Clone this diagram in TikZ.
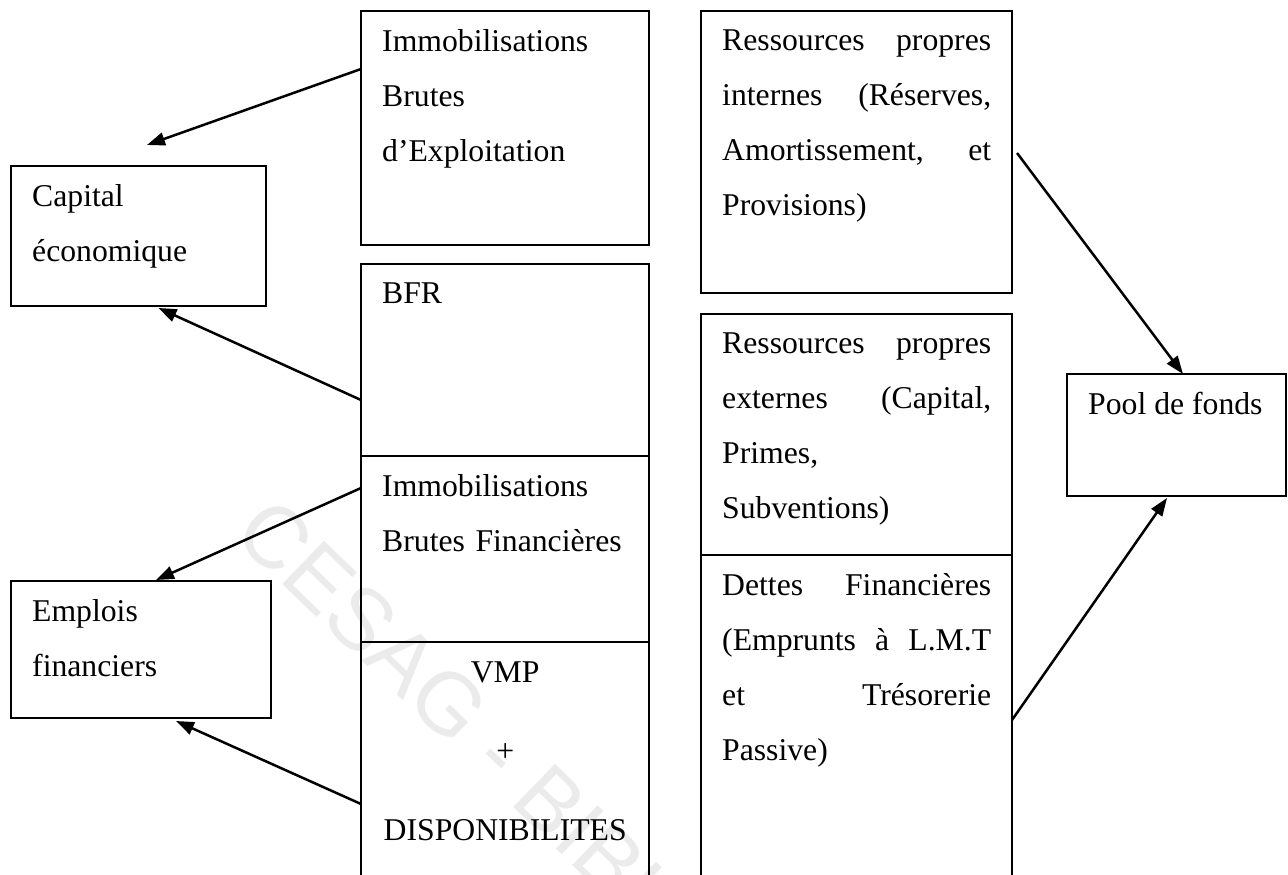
\documentclass[tikz,border=0pt]{standalone}
\usepackage{fontspec}
\setmainfont{Liberation Serif}
\newfontfamily\wmfont{Liberation Sans}
\usepackage{tikz}
\usetikzlibrary{arrows.meta}

\newcommand{\jgap}{\nobreak\hfill}

\begin{document}
\begin{tikzpicture}[x=1pt, y=-1pt,
		cell/.style={draw, line width=1.8pt, inner sep=0pt, outer sep=0pt, anchor=north west},
		celltext/.style={anchor=north west, inner sep=0pt, align=left,
			font=\fontsize{31.7}{55}\selectfont},
		link/.style={-{Triangle[length=18pt, width=13pt]}, line width=2.5pt}]
		\useasboundingbox (0,0) rectangle (1288,875);
		\clip (0,0) rectangle (1288,875);

		% Watermark
		\node[rotate=-44, text=gray!16, font=\wmfont\fontsize{87.5}{90}\selectfont]
			(mark) at (618,878) {CESAG - BIBLIOTHEQUE};

		% Emplois
		\node[cell, minimum width=288pt, minimum height=234pt] (ibe) at (361,11) {};
		\node[cell, minimum width=288pt, minimum height=192pt] (bfr) at (361,264) {};
		\node[cell, minimum width=288pt, minimum height=186pt] (immoFin) at (361,456) {};
		\node[cell, minimum width=288pt, minimum height=300pt] (vmp) at (361,642) {};
		\node[celltext, text width=246pt] (ibeText) at ([xshift=21pt, yshift=-18pt]ibe.north west)
			{Immobilisations\\Brutes\\d’Exploitation};
		\node[celltext, text width=246pt] (bfrText) at ([xshift=21pt, yshift=-19pt]bfr.north west) {BFR};
		\node[celltext, text width=246pt] (immoFinText) at ([xshift=21pt, yshift=-18pt]immoFin.north west)
			{Immobilisations\\Brutes Financières};
		\node[celltext, text width=246pt, align=center] (vmpText) at ([xshift=21pt, yshift=-20pt]vmp.north west)
			{VMP\\[24pt]+\\[24pt]DISPONIBILITES};

		% Capital economique et emplois financiers
		\node[cell, minimum width=255pt, minimum height=140pt] (capital) at (11,166) {};
		\node[cell, minimum width=260pt, minimum height=137pt] (emplois) at (11,581) {};
		\node[celltext, text width=213pt] (capitalText) at ([xshift=21pt, yshift=-18pt]capital.north west)
			{Capital\\économique};
		\node[celltext, text width=218pt] (emploisText) at ([xshift=21pt, yshift=-18pt]emplois.north west)
			{Emplois\\financiers};

		% Ressources
		\node[cell, minimum width=311pt, minimum height=282pt] (rpi) at (701,11) {};
		\node[cell, minimum width=311pt, minimum height=241pt] (rpe) at (701,314) {};
		\node[cell, minimum width=311pt, minimum height=400pt] (dettes) at (701,555) {};
		\node[celltext, text width=269pt] (rpiText) at ([xshift=21pt, yshift=-19pt]rpi.north west)
			{Ressources\jgap propres\\internes\jgap (Réserves,\\Amortissement,\jgap et\\Provisions)};
		\node[celltext, text width=269pt] (rpeText) at ([xshift=21pt, yshift=-19pt]rpe.north west)
			{Ressources\jgap propres\\externes\jgap (Capital,\\Primes,\\Subventions)};
		\node[celltext, text width=269pt] (dettesText) at ([xshift=21pt, yshift=-18pt]dettes.north west)
			{Dettes\jgap Financières\\(Emprunts\jgap à\jgap L.M.T\\et\jgap Trésorerie\\Passive)};

		% Pool de fonds
		\node[cell, minimum width=219pt, minimum height=122pt] (pool) at (1067,374) {};
		\node[celltext] (poolText) at ([xshift=21pt, yshift=-18pt]pool.north west) {Pool de fonds};

		% Arrows
		\coordinate (capTop) at ([xshift=8.5pt, yshift=21pt]capital.north);
		\draw[link] ([yshift=-58pt]ibe.north west) -- (capTop);
		\draw[link] ([yshift=-136pt]bfr.north west) -- ([xshift=20pt, yshift=-2pt]capital.south);
		\draw[link] ([yshift=-32pt]immoFin.north west) -- ([xshift=15pt, yshift=1pt]emplois.north);
		\draw[link] ([yshift=-162pt]vmp.north west) -- ([xshift=35pt, yshift=-3pt]emplois.south);
		\draw[link] ([xshift=5pt, yshift=-142pt]rpi.north east) -- ([xshift=6.5pt]pool.north);
		\draw[link] ([yshift=-165pt]dettes.north east) -- ([xshift=-9.5pt, yshift=-2pt]pool.south);
	\end{tikzpicture}
\end{document}
